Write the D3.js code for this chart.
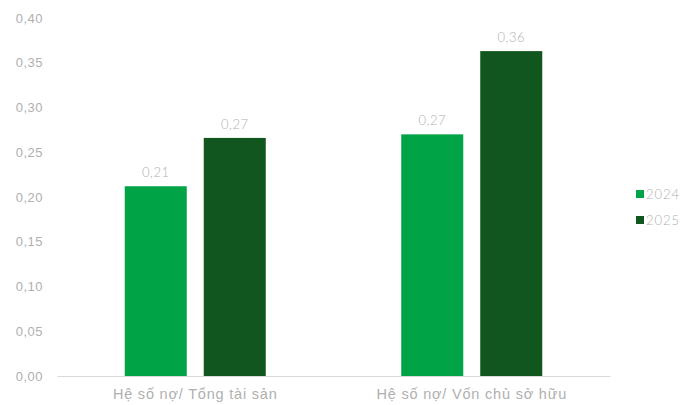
<!DOCTYPE html>
<html>
<head>
<meta charset="utf-8">
<script src="https://d3js.org/d3.v7.min.js"></script>
<style>
  body { margin: 0; background: #fff; }
  svg { font-family: Lato, "Open Sans", sans-serif; font-weight: 300; }
  .tick text { fill: #b0b0b0; font-size: 13px; letter-spacing: 0.5px; }
</style>
</head>
<body>
<script>
// data
var categories = ['Hệ số nợ/ Tổng tài sản', 'Hệ số nợ/ Vốn chủ sở hữu'];
var seriesNames = ['2024', '2025'];
var values2024 = [0.212, 0.270];
var values2025 = [0.266, 0.363];
var yTicks = [0, 0.05, 0.10, 0.15, 0.20, 0.25, 0.30, 0.35, 0.40];

var colors = ['#00a346', '#12561f'];

var margin = {top: 18, right: 74, bottom: 29, left: 57};
var width = 684 - margin.left - margin.right,
    height = 405 - margin.top - margin.bottom;

var fmt = d => d3.format('.2f')(d).replace('.', ',');

var svg = d3.select('body').append('svg')
    .attr('width', 684)
    .attr('height', 405)
  .append('g')
    .attr('transform', `translate(${margin.left},${margin.top})`);

var x0 = d3.scaleBand().domain(categories).range([0, width]);
var x1 = d3.scaleBand().domain(seriesNames).range([0, 141]).paddingInner(0.215);
var y = d3.scaleLinear().domain([0, 0.40]).range([height, 0]);

// y axis labels only
var yAxis = svg.append('g')
  .call(d3.axisLeft(y).tickValues(yTicks).tickFormat(fmt).tickSize(0).tickPadding(14));
yAxis.select('.domain').remove();

// x axis
var xAxis = svg.append('g')
  .attr('transform', `translate(0,${height})`)
  .call(d3.axisBottom(x0).tickSize(0).tickPadding(13));
xAxis.select('.domain').attr('stroke', '#d9d9d9');
xAxis.selectAll('text').style('font-size', '14.5px').style('letter-spacing', '0.8px');

var rows = categories.map((c, i) => ({cat: c, vals: [values2024[i], values2025[i]]}));

var groups = svg.selectAll('.grp').data(rows).enter().append('g')
  .attr('transform', d => `translate(${x0(d.cat) + x0.bandwidth() / 2 - 70.5},0)`);

groups.selectAll('rect')
  .data(d => d.vals.map((v, j) => ({s: seriesNames[j], v: v, j: j})))
  .enter().append('rect')
  .attr('x', d => x1(d.s))
  .attr('width', x1.bandwidth())
  .attr('y', d => y(d.v))
  .attr('height', d => height - y(d.v))
  .attr('fill', d => colors[d.j]);

groups.selectAll('.lbl')
  .data(d => d.vals.map((v, j) => ({s: seriesNames[j], v: v})))
  .enter().append('text')
  .attr('x', d => x1(d.s) + x1.bandwidth() / 2)
  .attr('y', d => y(d.v) - 9)
  .attr('text-anchor', 'middle')
  .attr('fill', '#b0b0b0')
  .style('font-size', '13px')
  .style('letter-spacing', '0.5px')
  .text(d => fmt(d.v));

// legend
var legend = svg.append('g')
  .attr('transform', `translate(${width + 26},${176})`);
seriesNames.forEach((s, i) => {
  var g = legend.append('g').attr('transform', `translate(0,${i * 26})`);
  g.append('rect').attr('width', 8).attr('height', 8).attr('y', -4).attr('fill', colors[i]);
  g.append('text').attr('x', 10).attr('dy', '0.35em')
    .attr('fill', '#b0b0b0').style('font-size', '13px').style('letter-spacing', '1px').text(s);
});
</script>
</body>
</html>
